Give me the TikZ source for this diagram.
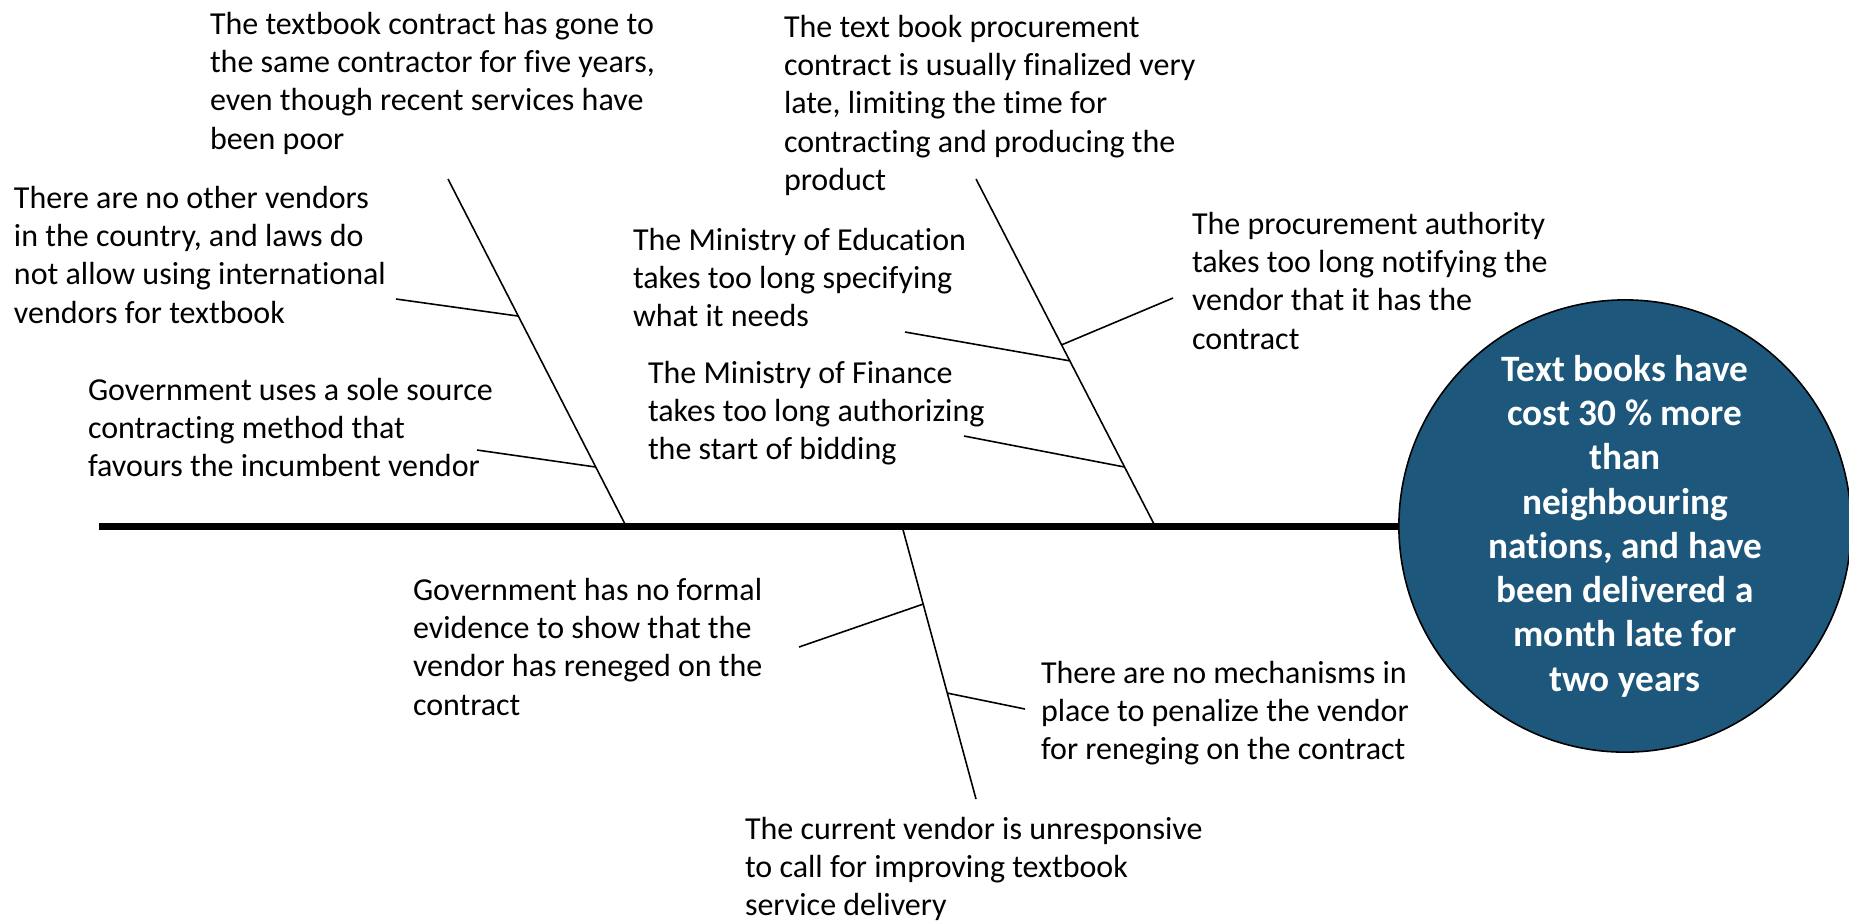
\documentclass[tikz,border=0pt]{standalone}
\usepackage{fontspec}
\setmainfont{Carlito}[Ligatures=CommonOff]
\usetikzlibrary{calc}
\definecolor{headblue}{RGB}{29,87,124}
\tikzset{%
    cause/.style={inner sep=0pt,outer sep=0pt,anchor=north west,align=left,font=\fontsize{9.1}{10.9}\selectfont},
    bone/.style={line width=0.45pt},
    spine/.style={line width=2pt},
    effect/.style={circle,draw,line width=0.45pt,fill=headblue,text=white,minimum size=4.52cm,inner sep=0pt,align=center,font=\bfseries\fontsize{10.6}{12.6}\selectfont},
}

\begin{document}
\begin{tikzpicture}[x=0.01cm,y=-0.01cm]
        \useasboundingbox (0,0) rectangle (1849,920);

        % head of the fish
        \node[effect] (head) at (1625,526) {Text books have\\cost 30 \% more\\than\\neighbouring\\nations, and have\\been delivered a\\month late for\\two years};
        \coordinate (tail) at (99,526);
        \draw[spine] (tail) -- (head.west);

        % upper left bone
        \coordinate (b1top) at (448,179);
        \coordinate (b1foot) at (626,526);
        \draw[bone] (b1top) -- (b1foot);
        \coordinate (a1) at (396,299);
        \coordinate (a2) at (477,450);
        \draw[bone] (a1) -- ($(b1top)!0.395!(b1foot)$);
        \draw[bone] (a2) -- ($(b1top)!0.83!(b1foot)$);

        % upper right bone
        \coordinate (b2top) at (976,179);
        \coordinate (b2foot) at (1155,526);
        \draw[bone] (b2top) -- (b2foot);
        \coordinate (c1) at (905,332);
        \coordinate (c2) at (1173,298);
        \coordinate (c3) at (964,436);
        \draw[bone] (c1) -- ($(b2top)!0.524!(b2foot)$);
        \draw[bone] (c2) -- ($(b2top)!0.478!(b2foot)$);
        \draw[bone] (c3) -- ($(b2top)!0.83!(b2foot)$);

        % lower bone
        \coordinate (b3top) at (902,526);
        \coordinate (b3foot) at (976,799);
        \draw[bone] (b3top) -- (b3foot);
        \coordinate (d1) at (799,647);
        \coordinate (d2) at (1025,709);
        \draw[bone] (d1) -- ($(b3top)!0.286!(b3foot)$);
        \draw[bone] (d2) -- ($(b3top)!0.612!(b3foot)$);

        % causes
        \node[cause] (contractor) at (210,12) {The textbook contract has gone to\\the same contractor for five years,\\even though recent services have\\been poor};
        \node[cause] (vendors) at (14,186) {There are no other vendors\\in the country, and laws do\\not allow using international\\vendors for textbook};
        \node[cause] (solesource) at (88,378) {Government uses a sole source\\contracting method that\\favours the incumbent vendor};
        \node[cause] (late) at (784,15) {The text book procurement\\contract is usually finalized very\\late, limiting the time for\\contracting and producing the\\product};
        \node[cause] (education) at (633,228) {The Ministry of Education\\takes too long specifying\\what it needs};
        \node[cause] (finance) at (648,361) {The Ministry of Finance\\takes too long authorizing\\the start of bidding};
        \node[cause] (authority) at (1192,212) {The procurement authority\\takes too long notifying the\\vendor that it has the\\contract};
        \node[cause] (evidence) at (413,578) {Government has no formal\\evidence to show that the\\vendor has reneged on the\\contract};
        \node[cause] (penalty) at (1041,661) {There are no mechanisms in\\place to penalize the vendor\\for reneging on the contract};
        \node[cause] (current) at (745,817) {The current vendor is unresponsive\\to call for improving textbook\\service delivery};
    \end{tikzpicture}
\end{document}
